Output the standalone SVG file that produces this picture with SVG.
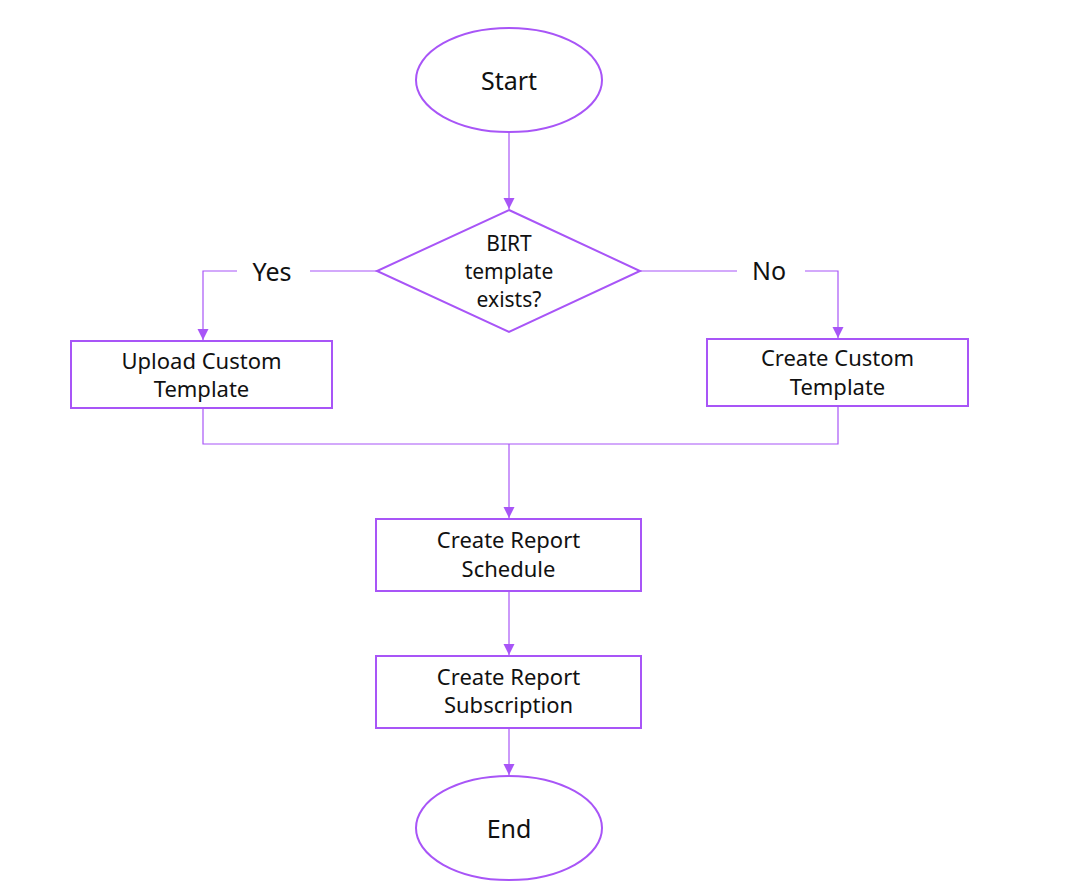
<svg xmlns="http://www.w3.org/2000/svg" width="1066" height="893" viewBox="0 0 1066 893">
<defs>
<marker id="arr" markerUnits="userSpaceOnUse" markerWidth="11" markerHeight="12" refX="11" refY="5.5" orient="auto">
<path d="M0,0 L11,5.5 L0,11 z" fill="#a855f7"/>
</marker>
<style>
.shape{fill:#fff;stroke:#a855f7;stroke-width:2}
.conn{fill:none;stroke:#a855f7;stroke-width:1.2}
.t{font-family:"Noto Sans","DejaVu Sans",sans-serif;fill:#111;text-anchor:middle}
.big{font-size:25px}
.sm{font-size:21px}
.bx{font-size:22px}
</style>
</defs>
<rect width="1066" height="893" fill="#fff"/>
<g id="connectors">
<path class="conn" d="M509,132 V209" marker-end="url(#arr)"/>
<path class="conn" d="M377,271 H310 M237,271 H203 V340" marker-end="url(#arr)"/>
<path class="conn" d="M640,271 H737 M805,271 H838 V338" marker-end="url(#arr)"/>
<path class="conn" d="M203,408 V444 H838 V406"/>
<path class="conn" d="M509,444 V518" marker-end="url(#arr)"/>
<path class="conn" d="M509,591 V655" marker-end="url(#arr)"/>
<path class="conn" d="M509,728 V775" marker-end="url(#arr)"/>
<text class="t big" x="272" y="281">Yes</text>
<text class="t big" x="769" y="280">No</text>
</g>
<g id="start">
<ellipse class="shape" cx="509" cy="80" rx="93" ry="52"/>
<text class="t big" x="509" y="90">Start</text>
</g>
<g id="decision">
<polygon class="shape" points="509,210 640,271 509,332 377,271"/>
<text class="t sm" x="509" y="251">BIRT</text>
<text class="t sm" x="509" y="279">template</text>
<text class="t sm" x="509" y="307">exists?</text>
</g>
<g id="upload">
<rect class="shape" x="71" y="341" width="261" height="67"/>
<text class="t bx" x="201.5" y="369">Upload Custom</text>
<text class="t bx" x="201.5" y="397">Template</text>
</g>
<g id="create-template">
<rect class="shape" x="707" y="339" width="261" height="67"/>
<text class="t bx" x="837.5" y="366">Create Custom</text>
<text class="t bx" x="837.5" y="395">Template</text>
</g>
<g id="schedule">
<rect class="shape" x="376" y="519" width="265" height="72"/>
<text class="t bx" x="508.5" y="548">Create Report</text>
<text class="t bx" x="508.5" y="577">Schedule</text>
</g>
<g id="subscription">
<rect class="shape" x="376" y="656" width="265" height="72"/>
<text class="t bx" x="508.5" y="685">Create Report</text>
<text class="t bx" x="508.5" y="713">Subscription</text>
</g>
<g id="end">
<ellipse class="shape" cx="509" cy="828" rx="93" ry="52"/>
<text class="t big" x="509" y="838">End</text>
</g>
</svg>
